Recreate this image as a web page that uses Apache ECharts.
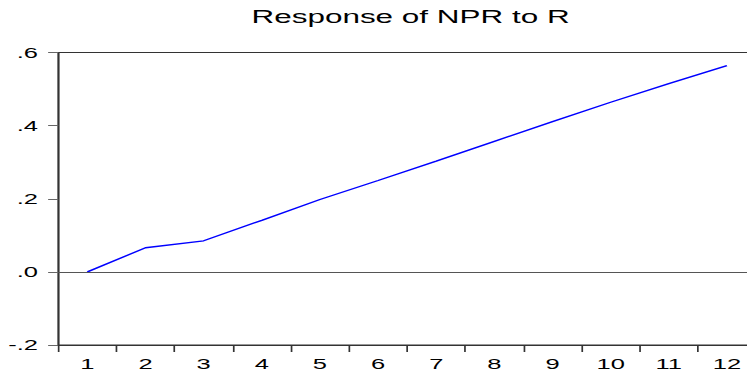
<!DOCTYPE html>
<html>
<head>
<meta charset="utf-8">
<script src="https://cdn.jsdelivr.net/npm/echarts@6/dist/echarts.min.js"></script>
<style>
html, body { margin: 0; padding: 0; background: #fff; overflow: hidden; width: 747px; height: 379px; }
#chart { width: 446px; height: 379px; transform: scaleX(1.7); transform-origin: 0 0; }
</style>
</head>
<body>
<div id="chart"></div>
<script>
const titleText = 'Response of NPR to R';
const categories = ['1','2','3','4','5','6','7','8','9','10','11','12'];
const responseValues = [0.000, 0.066, 0.085, 0.141, 0.198, 0.250, 0.303, 0.357, 0.411, 0.464, 0.515, 0.564];
const yTickValues = [-0.2, 0.0, 0.2, 0.4, 0.6];
const yTickLabels = ['-.2', '.0', '.2', '.4', '.6'];

const FONT = '"Liberation Sans", Arial, sans-serif';
const chart = echarts.init(document.getElementById('chart'), null, { renderer: 'svg' });

function yLabel(v) {
  for (let i = 0; i < yTickValues.length; i++) {
    if (Math.abs(yTickValues[i] - v) < 1e-9) return yTickLabels[i];
  }
  return '';
}

chart.setOption({
  animation: false,
  backgroundColor: '#ffffff',
  title: {
    text: titleText,
    left: 241.5,
    top: 7.5,
    textAlign: 'center',
    padding: 0,
    textStyle: { fontFamily: FONT, fontSize: 18.5, fontWeight: 'normal', color: '#000' }
  },
  grid: {
    left: 34.3, right: 1.3, top: 52.5, bottom: 34,
    show: true, borderColor: '#333', borderWidth: 1, backgroundColor: 'transparent',
    containLabel: false
  },
  xAxis: {
    type: 'category',
    data: categories,
    boundaryGap: true,
    axisLine: { show: true, onZero: false, lineStyle: { color: '#333', width: 1 } },
    axisTick: { show: true, inside: false, length: 7, alignWithLabel: false, lineStyle: { color: '#333', width: 1 } },
    axisLabel: { margin: 11.5, fontFamily: FONT, fontSize: 15, color: '#000', interval: 0 },
    splitLine: { show: false }
  },
  yAxis: {
    type: 'value',
    min: -0.2, max: 0.6, interval: 0.2,
    axisLine: { show: true, lineStyle: { color: '#333', width: 1 } },
    axisTick: { show: true, inside: false, length: 6, lineStyle: { color: '#666', width: 1 } },
    axisLabel: { margin: 12, fontFamily: FONT, fontSize: 15, color: '#000', formatter: yLabel },
    splitLine: { show: false }
  },
  series: [{
    type: 'line',
    data: responseValues,
    symbol: 'none',
    smooth: false,
    lineStyle: { color: '#0000ff', width: 1.3 },
    markLine: {
      silent: true,
      symbol: 'none',
      label: { show: false },
      lineStyle: { color: '#555', width: 1, type: 'solid' },
      data: [{ yAxis: 0 }]
    }
  }]
});
</script>
</body>
</html>
